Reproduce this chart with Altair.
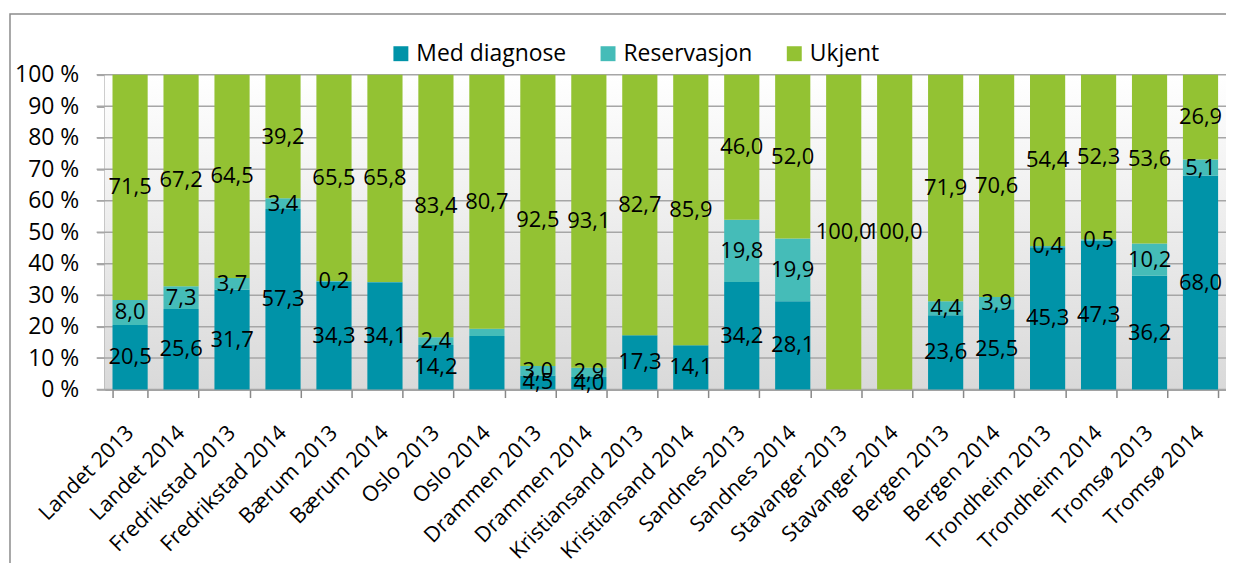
import altair as alt
import pandas as pd

categories = ["Landet 2013", "Landet 2014", "Fredrikstad 2013", "Fredrikstad 2014",
              "Bærum 2013", "Bærum 2014", "Oslo 2013", "Oslo 2014",
              "Drammen 2013", "Drammen 2014", "Kristiansand 2013", "Kristiansand 2014",
              "Sandnes 2013", "Sandnes 2014", "Stavanger 2013", "Stavanger 2014",
              "Bergen 2013", "Bergen 2014", "Trondheim 2013", "Trondheim 2014",
              "Tromsø 2013", "Tromsø 2014"]
series = ["Med diagnose", "Reservasjon", "Ukjent"]
diag = [20.5, 25.6, 31.7, 57.3, 34.3, 34.1, 14.2, 17.0, 4.5, 4.0, 17.3, 14.1,
        34.2, 28.1, 0.0, 0.0, 23.6, 25.5, 45.3, 47.3, 36.2, 68.0]
reserv = [8.0, 7.3, 3.7, 3.4, 0.2, 0.1, 2.4, 2.3, 3.0, 2.9, 0.0, 0.0,
          19.8, 19.9, 0.0, 0.0, 4.4, 3.9, 0.4, 0.5, 10.2, 5.1]
ukjent = [71.5, 67.2, 64.5, 39.2, 65.5, 65.8, 83.4, 80.7, 92.5, 93.1, 82.7, 85.9,
          46.0, 52.0, 100.0, 100.0, 71.9, 70.6, 54.4, 52.3, 53.6, 26.9]
# data labels not shown in the original
hidden_labels = [("Oslo 2014", "Med diagnose"), ("Oslo 2014", "Reservasjon"),
                 ("Bærum 2014", "Reservasjon")]
y_ticks = [i / 10 for i in range(11)]
colors = ["#0093A8", "#45BCB8", "#93C233"]

rows = []
for i, c in enumerate(categories):
    for k, (s, vals) in enumerate(zip(series, [diag, reserv, ukjent])):
        v = vals[i]
        show = v > 0 and (c, s) not in hidden_labels
        rows.append({"cat": c, "serie": s, "value": v, "ord": k, "show": show})
df = pd.DataFrame(rows)

FONT = "Open Sans"
FS = 22
W, H = 1126, 316
yscale = alt.Scale(domain=[0, 1])
yaxis = alt.Axis(values=y_ticks,
                 labelExpr="round(datum.value*100) + ' %'",
                 grid=False, tickSize=8, tickColor="#A6A6A6", tickWidth=1.5,
                 domainColor="#888888", domainWidth=1.5,
                 labelPadding=18, labelFont=FONT, labelFontSize=23,
                 labelColor="#000000", title=None)

base = alt.Chart(df)

x_enc = alt.X("cat:N", sort=categories, title=None,
              scale=alt.Scale(paddingInner=0.31, paddingOuter=0.155),
              axis=alt.Axis(labelAngle=-45, labelAlign="right", labelBaseline="middle",
                            labelPadding=32, tickSize=8, tickBand="extent",
                            tickColor="#888888", domainColor="#888888", domainWidth=1.5,
                            tickWidth=1.5, labelFont=FONT, labelFontSize=21.5,
                            labelColor="#000000", grid=False, labelOverlap=False,
                            labelLimit=0))

background = alt.Chart(alt.Data(values=[{"a": 1}])).mark_rect(
    fill=alt.LinearGradient(gradient="linear", x1=0, y1=0, x2=0, y2=1,
                            stops=[alt.GradientStop(offset=0, color="#FFFFFF"),
                                   alt.GradientStop(offset=1, color="#D9D9D9")])
).encode(x=alt.value(0), x2=alt.value(W), y=alt.value(0), y2=alt.value(H))

grid = alt.Chart(pd.DataFrame({"v": y_ticks})).mark_rule(
    color="#A6A6A6", strokeWidth=1.5
).encode(y=alt.Y("v:Q", scale=yscale, axis=yaxis), x=alt.value(-8), x2=alt.value(W))

bars = base.mark_bar().encode(
    x=x_enc,
    y=alt.Y("value:Q", stack="normalize", scale=yscale, axis=yaxis),
    color=alt.Color("serie:N", sort=series,
                    scale=alt.Scale(domain=series, range=colors),
                    legend=alt.Legend(title=None, orient="none", direction="horizontal",
                                      legendX=286, legendY=-33,
                                      symbolType="square", symbolSize=225,
                                      symbolStrokeWidth=0, labelOffset=4,
                                      columnPadding=30, labelFont=FONT,
                                      labelFontSize=23, labelColor="#000000")),
    order=alt.Order("ord:Q"),
)

labels = base.transform_joinaggregate(
    total="sum(value)", groupby=["cat"]
).transform_window(
    cum="sum(value)", sort=[alt.SortField("ord")], groupby=["cat"], frame=[None, 0]
).transform_calculate(
    mid="(datum.cum - datum.value/2)/datum.total",
    lbl="replace(format(datum.value, '.1f'), '.', ',')"
).transform_filter("datum.show").mark_text(
    font=FONT, fontSize=FS, color="#000000", align="center", baseline="middle"
).encode(
    x=alt.X("cat:N", sort=categories),
    y=alt.Y("mid:Q", scale=yscale, axis=yaxis),
    text="lbl:N",
)

frame = alt.Chart(alt.Data(values=[{"a": 1}])).mark_rect(
    fill=None, stroke="#8C8C8C", strokeWidth=1.5
).encode(x=alt.value(-95), x2=alt.value(1300), y=alt.value(-61), y2=alt.value(700))

chart = alt.layer(frame, background, grid, bars, labels).properties(
    width=W, height=H,
    autosize=alt.AutoSizeParams(type="none"),
    padding={"left": 97, "top": 66, "right": 0, "bottom": 173},
).configure_view(stroke=None).configure_axisY(
    labelFont=FONT, labelFontSize=23, labelColor="#000000"
).configure(background="#FFFFFF")

chart.save("out.html", embed_options={"renderer": "svg", "actions": False})
